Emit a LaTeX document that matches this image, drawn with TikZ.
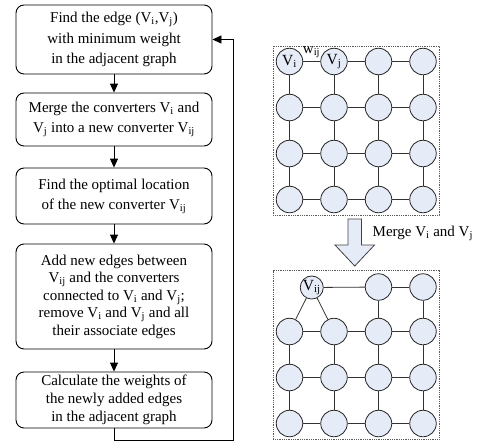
\documentclass[tikz,border=0pt]{standalone}
\usepackage{fontspec}
\setmainfont{Liberation Serif}
\usetikzlibrary{arrows.meta}
\definecolor{convfill}{RGB}{230,236,247}
\definecolor{framegray}{RGB}{90,90,90}
\newcommand{\Vsub}[1]{V\textsubscript{#1}}
\tikzset{
  flowbox/.style={draw, line width=0.9pt, rounded corners=8pt, minimum width=196pt,
    align=center, inner sep=2pt},
  flowarrow/.style={line width=0.9pt, -{Triangle[length=9pt,width=8pt]}},
  conv/.style={circle, draw=black!85, line width=0.8pt, fill=convfill,
    minimum size=26.5pt, inner sep=0pt, font=\fontsize{15.5}{16}\selectfont},
  link/.style={line width=0.8pt, draw=black!80},
  gridframe/.style={draw=framegray, line width=0.7pt, dash pattern=on 1pt off 0.8pt},
}
\begin{document}
\begin{tikzpicture}[x=1pt, y=-1pt]
\useasboundingbox (0,0) rectangle (481,442);

% ---------- flowchart ----------
\node[flowbox, minimum height=69pt, font=\fontsize{15}{20.5}\selectfont] (b1) at (114,39.5)
  {Find the edge (\Vsub{i},\Vsub{j})\\with minimum weight\\in the adjacent graph};
\node[flowbox, minimum height=53pt, font=\fontsize{15}{20}\selectfont] (b2) at (114,119.5)
  {Merge the converters \Vsub{i} and\\\Vsub{j} into a new converter \Vsub{ij}};
\node[flowbox, minimum height=56pt, font=\fontsize{15}{20}\selectfont] (b3) at (114,196)
  {Find the optimal location\\of the new converter \Vsub{ij}};
\node[flowbox, minimum height=105pt, font=\fontsize{15}{17.5}\selectfont] (b4) at (114,296.5)
  {Add new edges between\\\Vsub{ij} and the converters\\connected to \Vsub{i} and \Vsub{j};\\remove \Vsub{i} and \Vsub{j} and all\\their associate edges};
\node[flowbox, minimum height=56pt, font=\fontsize{15}{18}\selectfont] (b5) at (114,400)
  {Calculate the weights of\\the newly added edges\\in the adjacent graph};

\draw[flowarrow] (b1) -- (b2);
\draw[flowarrow] (b2) -- (b3);
\draw[flowarrow] (b3) -- (b4);
\draw[flowarrow] (b4) -- (b5);

\coordinate (loopA) at (114,440.5);
\coordinate (loopB) at (233,440.5);
\coordinate (loopC) at (233,39.5);
\draw[flowarrow] (b5.south) -- (loopA) -- (loopB) -- (loopC) -- (b1.east);

% ---------- adjacent graph before merging ----------
\draw[gridframe] (273,46) rectangle (439,215);
\foreach \r in {1,...,4}{
  \foreach \c in {1,...,4}{
    \node[conv] (a\r\c) at ({289.5+44.5*(\c-1)},{61.5+46*(\r-1)}) {};
  }
}
\node[font=\fontsize{15.5}{16}\selectfont] at (a11) {\Vsub{i}};
\node[font=\fontsize{15.5}{16}\selectfont] at (a12) {\Vsub{j}};
\foreach \r in {1,...,4}{
  \foreach \c/\d in {1/2,2/3,3/4}{
    \draw[link] (a\r\c) -- (a\r\d);
  }
}
\foreach \c in {1,...,4}{
  \foreach \r/\s in {1/2,2/3,3/4}{
    \draw[link] (a\r\c) -- (a\s\c);
  }
}
\node[font=\fontsize{15}{16}\selectfont, inner sep=0pt] (wij) at (311.5,52) {w\textsubscript{ij}};

% ---------- merge arrow ----------
\draw[draw=black!75, line width=0.8pt, fill=convfill]
  (348,219) -- (361.5,219) -- (361.5,245) -- (374.5,245) -- (354.75,266)
  -- (335,245) -- (348,245) -- cycle;
\node[anchor=west, font=\fontsize{15}{16}\selectfont, inner sep=0pt] (mergelabel) at (372.5,233)
  {Merge \Vsub{i} and \Vsub{j}};

% ---------- adjacent graph after merging ----------
\draw[gridframe] (273,270.5) rectangle (439,439.5);
\node[conv, minimum size=23pt] (vij) at (311.75,287.5) {\Vsub{ij}};
\node[conv] (b13) at (378.5,287) {};
\node[conv] (b14) at (423,287) {};
\foreach \r in {2,...,4}{
  \foreach \c in {1,...,4}{
    \node[conv] (b\r\c) at ({289.5+44.5*(\c-1)},{331.5+46*(\r-2)}) {};
  }
}
\draw[link] (vij) -- (b13);
\draw[link] (b13) -- (b14);
\draw[link] (vij) -- (b21);
\draw[link] (vij) -- (b22);
\draw[link] (b13) -- (b23);
\draw[link] (b14) -- (b24);
\foreach \r in {2,...,4}{
  \foreach \c/\d in {1/2,2/3,3/4}{
    \draw[link] (b\r\c) -- (b\r\d);
  }
}
\foreach \c in {1,...,4}{
  \foreach \r/\s in {2/3,3/4}{
    \draw[link] (b\r\c) -- (b\s\c);
  }
}
\end{tikzpicture}
\end{document}
